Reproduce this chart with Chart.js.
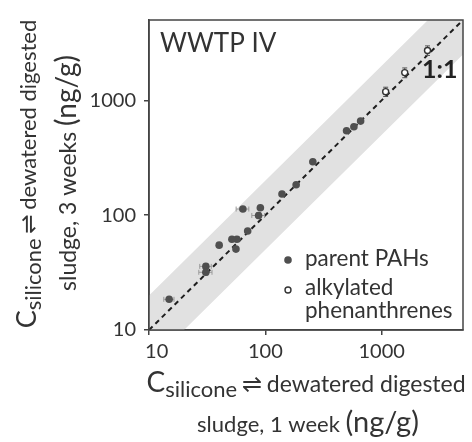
<!DOCTYPE html>
<html>
<head>
<meta charset="utf-8">
<script src="https://cdn.jsdelivr.net/npm/chart.js@4.4.1/dist/chart.umd.min.js"></script>
<style>
  html, body { margin: 0; padding: 0; background: #ffffff; }
  #c { display: block; }
</style>
</head>
<body>
<canvas id="c" width="472" height="442"></canvas>
<script>
// ---- data (ng/g) ----
const tickValues = [10, 100, 1000];
const xTickLabels = ['   10', '100', '1000'];
const yTickLabels = ['10', '100', '1000'];
const axisMin = 10;
const axisMax = 5000;

// parent PAHs: 1 week (x) vs 3 weeks (y)
const parentX = [659, 577, 499, 256, 184, 139, 90.6, 64.1, 87.5, 70.5, 57, 51.6, 55.9, 40.1, 30.8, 30.8, 14.9];
const parentY = [659, 589, 543, 292, 184, 153, 116, 113, 99.3, 72.8, 61.6, 61.6, 50.6, 54.8, 35.8, 31.8, 18.5];
const parentXErr = [0, 0, 0, 0, 0, 0, 0, 8, 11, 0, 0, 0, 0, 0, 3.5, 4, 1.5];
const parentYErr = [0, 0, 0, 0, 0, 0, 0, 0, 6, 0, 0, 0, 0, 0, 2, 2, 0];

// alkylated phenanthrenes
const alkX = [2477, 1578, 1082];
const alkY = [2716, 1742, 1189];
const alkYErr = [260, 170, 110];

// 1:1 line and factor-of-2 band
const oneToOneX = [10, 5000];
const oneToOneY = [10, 5000];
const bandX = [10, 2500, 5000, 5000, 20, 10];
const bandY = [20, 5000, 5000, 2500, 10, 10];

const legendLabels = ['parent PAHs', 'alkylated', 'phenanthrenes'];
const panelLabel = 'WWTP IV';
const lineLabel = '1:1';

const FONT = 'Lato, "Open Sans", "DejaVu Sans", sans-serif';
const TEXT = '#333333';

const pts = (xs, ys) => xs.map((x, i) => ({ x: x, y: ys[i] }));

const errorBars = {
  id: 'errorBars',
  beforeDatasetDraw(chart, args) {
    if (args.index !== 2) return;
    const ctx = chart.ctx, xs = chart.scales.x, ys = chart.scales.y;
    ctx.save();
    ctx.strokeStyle = '#9a9a9a';
    ctx.lineWidth = 1;
    const cap = 2.5;
    const drawX = (x, y, e) => {
      if (!e) return;
      const py = ys.getPixelForValue(y);
      const x1 = xs.getPixelForValue(x - e), x2 = xs.getPixelForValue(x + e);
      ctx.beginPath();
      ctx.moveTo(x1, py); ctx.lineTo(x2, py);
      ctx.moveTo(x1, py - cap); ctx.lineTo(x1, py + cap);
      ctx.moveTo(x2, py - cap); ctx.lineTo(x2, py + cap);
      ctx.stroke();
    };
    const drawY = (x, y, e, col) => {
      if (!e) return;
      const px = xs.getPixelForValue(x);
      const y1 = ys.getPixelForValue(y - e), y2 = ys.getPixelForValue(y + e);
      ctx.save();
      if (col) ctx.strokeStyle = col;
      ctx.beginPath();
      ctx.moveTo(px, y1); ctx.lineTo(px, y2);
      ctx.moveTo(px - cap, y1); ctx.lineTo(px + cap, y1);
      ctx.moveTo(px - cap, y2); ctx.lineTo(px + cap, y2);
      ctx.stroke();
      ctx.restore();
    };
    parentX.forEach((x, i) => { drawX(x, parentY[i], parentXErr[i]); drawY(x, parentY[i], parentYErr[i]); });
    alkX.forEach((x, i) => drawY(x, alkY[i], alkYErr[i], '#555555'));
    ctx.restore();
  }
};

function drawRich(ctx, segs, cx, baseline) {
  let w = 0;
  segs.forEach(s => { ctx.font = s.font; s.w = ctx.measureText(s.t).width; w += s.w; });
  let x = cx - w / 2;
  ctx.textAlign = 'left';
  ctx.textBaseline = 'alphabetic';
  segs.forEach(s => { ctx.font = s.font; ctx.fillText(s.t, x, baseline + (s.dy || 0)); x += s.w; });
}

const annotations = {
  id: 'annotations',
  afterDatasetsDraw(chart) {
    const ctx = chart.ctx, a = chart.chartArea;
    ctx.save();
    ctx.strokeStyle = '#444444';
    ctx.lineWidth = 1.5;
    ctx.strokeRect(a.left, a.top, a.right - a.left, a.bottom - a.top);
    ctx.restore();
  },
  afterDraw(chart) {
    const ctx = chart.ctx, a = chart.chartArea;
    ctx.save();
    ctx.fillStyle = TEXT;
    ctx.textBaseline = 'alphabetic';
    ctx.textAlign = 'left';
    ctx.font = '26px ' + FONT;
    ctx.fillText(panelLabel, a.left + 11, a.top + 32);
    ctx.fillStyle = '#222222';
    ctx.font = 'bold 25px ' + FONT;
    ctx.fillText(lineLabel, 422, 78);

    // legend
    const ds = chart.data.datasets;
    ctx.fillStyle = TEXT;
    ctx.font = '22.5px ' + FONT;
    ctx.textBaseline = 'middle';
    ctx.fillText(legendLabels[0], 305, 259);
    ctx.fillText(legendLabels[1], 305, 288);
    ctx.fillText(legendLabels[2], 305, 311);
    ctx.beginPath();
    ctx.arc(288, 260, ds[2].pointRadius, 0, Math.PI * 2);
    ctx.fillStyle = ds[2].backgroundColor; ctx.fill();
    ctx.beginPath();
    ctx.arc(288, 290, ds[3].pointRadius, 0, Math.PI * 2);
    ctx.fillStyle = ds[3].backgroundColor; ctx.fill();
    ctx.lineWidth = ds[3].borderWidth; ctx.strokeStyle = ds[3].borderColor; ctx.stroke();

    // axis titles
    ctx.fillStyle = TEXT;
    const cx = (a.left + a.right) / 2;
    drawRich(ctx, [
      { t: 'C', font: '28px ' + FONT },
      { t: 'silicone', font: '22px ' + FONT, dy: 5 },
      { t: '\u2009\u21CC\u2009', font: '24px "DejaVu Sans", sans-serif' },
      { t: 'dewatered digested', font: '23px ' + FONT }
    ], cx, 392);
    drawRich(ctx, [
      { t: 'sludge, 1 week ', font: '22px ' + FONT },
      { t: '(ng/g)', font: '29px ' + FONT }
    ], cx + 2, 432);

    const cy = (a.top + a.bottom) / 2;
    ctx.save();
    ctx.translate(36, cy - 1);
    ctx.rotate(-Math.PI / 2);
    drawRich(ctx, [
      { t: 'C', font: '27px ' + FONT },
      { t: 'silicone', font: '22px ' + FONT, dy: 5 },
      { t: '\u2009\u21CC\u2009', font: '23px "DejaVu Sans", sans-serif' },
      { t: 'dewatered digested', font: '22px ' + FONT }
    ], 0, 0);
    ctx.restore();
    ctx.save();
    ctx.translate(76, cy - 2);
    ctx.rotate(-Math.PI / 2);
    drawRich(ctx, [
      { t: 'sludge, 3 weeks ', font: '23px ' + FONT },
      { t: '(ng/g)', font: '28px ' + FONT }
    ], 0, 0);
    ctx.restore();
    ctx.restore();
  }
};

function logAxis(labels, isX) {
  return {
    type: 'logarithmic',
    position: isX ? 'bottom' : 'left',
    min: axisMin,
    max: axisMax,
    afterBuildTicks: s => { s.ticks = tickValues.map(v => ({ value: v })); },
    afterFit: s => { if (isX) s.height = 112; else s.width = 149; },
    ticks: {
      autoSkip: false,
      maxRotation: 0,
      padding: isX ? 5 : 8,
      color: TEXT,
      font: { family: FONT, size: 20 },
      callback: (v, i) => labels[i]
    },
    grid: { display: true, drawOnChartArea: false, drawTicks: true, tickLength: 5, color: '#444444', lineWidth: 1.5 },
    border: { display: true, color: '#444444', width: 1.5 }
  };
}

new Chart(document.getElementById('c'), {
  type: 'scatter',
  data: {
    datasets: [
      { type: 'line', label: 'band', data: pts(bandX, bandY), fill: 'shape', backgroundColor: '#e1e1e1',
        borderWidth: 0, pointRadius: 0, order: 4 },
      { type: 'line', label: '1:1', data: pts(oneToOneX, oneToOneY), fill: false, borderColor: '#1e1e1e',
        borderWidth: 2, borderDash: [5, 4], pointRadius: 0, order: 3 },
      { label: 'parent PAHs', data: pts(parentX, parentY), pointRadius: 3.8, backgroundColor: '#4f4f4f',
        borderColor: '#4f4f4f', borderWidth: 0, order: 2 },
      { label: 'alkylated phenanthrenes', data: pts(alkX, alkY), pointRadius: 3, backgroundColor: '#ffffff',
        borderColor: '#333333', borderWidth: 1.4, order: 1 }
    ]
  },
  options: {
    responsive: false,
    animation: false,
    devicePixelRatio: 1,
    layout: { padding: { left: 0, right: 9, top: 16, bottom: 0 } },
    plugins: { legend: { display: false }, tooltip: { enabled: false } },
    scales: { x: logAxis(xTickLabels, true), y: logAxis(yTickLabels, false) }
  },
  plugins: [errorBars, annotations]
});
</script>
</body>
</html>
